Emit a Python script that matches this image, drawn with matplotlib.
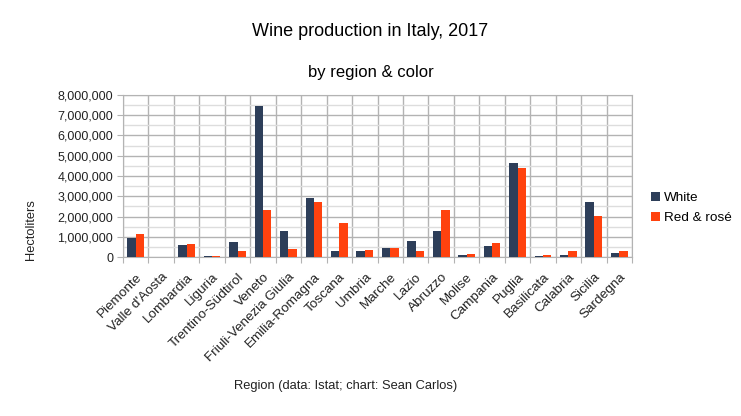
import numpy as np
import matplotlib
matplotlib.use("Agg")
from matplotlib import pyplot as plt
from matplotlib.ticker import FuncFormatter, MultipleLocator

plt.rcParams['font.family'] = ['Liberation Sans', 'DejaVu Sans']

regions = ["Piemonte", "Valle d'Aosta", "Lombardia", "Liguria", "Trentino-Südtirol",
           "Veneto", "Friuli-Venezia Giulia", "Emilia-Romagna", "Toscana", "Umbria",
           "Marche", "Lazio", "Abruzzo", "Molise", "Campania", "Puglia", "Basilicata",
           "Calabria", "Sicilia", "Sardegna"]
white = [960000, 5000, 600000, 50000, 740000, 7440000, 1290000, 2930000, 300000, 300000,
         450000, 790000, 1290000, 100000, 550000, 4660000, 50000, 100000, 2730000, 200000]
red = [1140000, 5000, 640000, 50000, 300000, 2330000, 400000, 2730000, 1700000, 350000,
       450000, 300000, 2330000, 150000, 690000, 4410000, 100000, 300000, 2030000, 300000]

c_white = '#2d3e59'
c_red = '#ff420e'

fig = plt.figure(figsize=(7.41, 4.16), dpi=100)
ax = fig.add_axes([0.166, 0.382, 0.687, 0.39])

x = np.arange(len(regions))
w = 0.33
ax.bar(x - w/2, white, w, color=c_white, label='White', zorder=3)
ax.bar(x + w/2, red, w, color=c_red, label='Red & rosé', zorder=3)

ax.set_xlim(-0.5, len(regions) - 0.5)
ax.set_ylim(0, 8000000)
ax.yaxis.set_major_locator(MultipleLocator(1000000))
ax.yaxis.set_minor_locator(MultipleLocator(500000))
ax.yaxis.set_major_formatter(FuncFormatter(lambda v, p: f'{int(v):,}'))
ax.grid(axis='y', which='major', color='#b3b3b3', lw=1, zorder=0)
ax.grid(axis='y', which='minor', color='#dddddd', lw=1, zorder=0)

# category boundaries as vertical grid lines
ax.set_xticks(np.arange(-0.5, len(regions), 1))
ax.set_xticklabels([])
ax.grid(axis='x', which='major', color='#b3b3b3', lw=1, zorder=0)
ax.set_xticks(x, minor=True)
ax.set_xticklabels(regions, minor=True, rotation=45, ha='right',
                   rotation_mode='anchor', fontsize=9.7, color='#222222')
ax.tick_params(axis='x', which='minor', length=0, pad=10)
ax.tick_params(axis='x', which='major', length=4, color='#b3b3b3')
ax.tick_params(axis='y', which='major', length=4, color='#b3b3b3',
               labelsize=9, labelcolor='#222222', pad=3)
ax.tick_params(axis='y', which='minor', length=0)

for s in ax.spines.values():
    s.set_color('#b3b3b3')

fig.text(0.5, 0.925, 'Wine production in Italy, 2017', ha='center', va='center', fontsize=13)
fig.text(0.5, 0.825, 'by region & color', ha='center', va='center', fontsize=12)
fig.text(0.466, 0.072, 'Region (data: Istat; chart: Sean Carlos)', ha='center', va='center',
         fontsize=9.3, color='#222222')
fig.text(0.042, 0.447, 'Hectoliters', rotation=90, ha='center', va='center',
         fontsize=9.3, color='#222222')

fig.legend(loc='center left', bbox_to_anchor=(0.862, 0.5), frameon=False, fontsize=9.7,
           handlelength=0.7, handleheight=0.7, handletextpad=0.3, labelspacing=0.55)

fig.savefig('out.png', dpi=100)
